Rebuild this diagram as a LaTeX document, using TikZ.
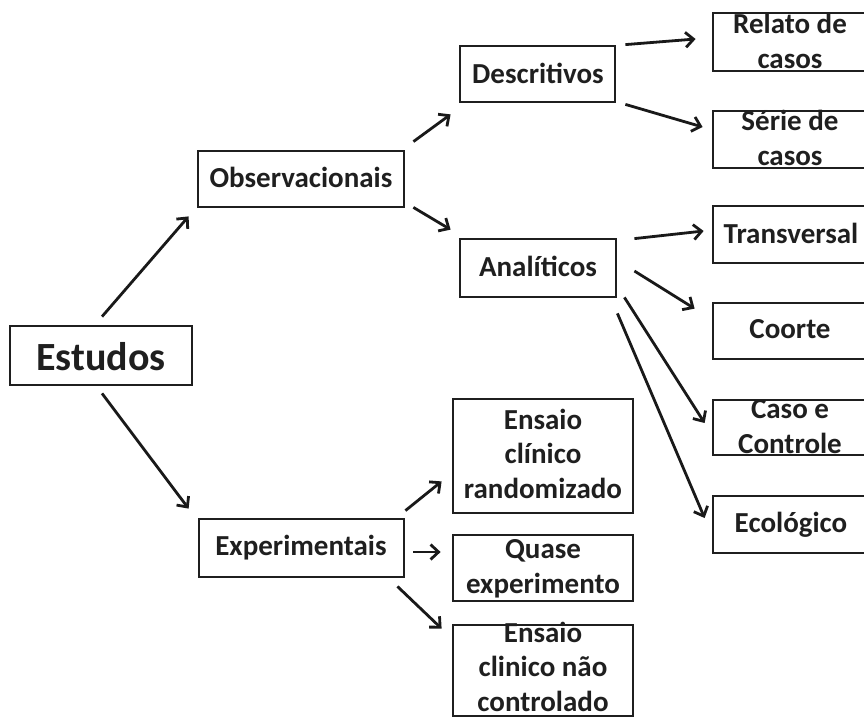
\documentclass[tikz,border=0pt]{standalone}
\usepackage{fontspec}
\setmainfont{Carlito}
\usetikzlibrary{arrows.meta,calc}

\tikzset{
  box/.style={draw=black!88, line width=2.8pt, inner sep=0pt, fill=none},
  lbl/.style={font=\fontsize{29}{34.5}\selectfont\bfseries, text=black!88,
              inner sep=0pt, anchor=base, align=center},
  biglbl/.style={lbl, font=\fontsize{40}{46}\selectfont\bfseries},
  arr/.style={draw=black!90, line width=2.8pt,
              -{Straight Barb[length=8pt,width=15pt,line width=2.8pt]}},
}

\begin{document}
\begin{tikzpicture}[x=1pt,y=-1pt]
  \useasboundingbox (0,0) rectangle (864,718);
  \clip (0,0) rectangle (864,718);

  % frames (centre, width, height)
  \node[box, minimum width=182pt, minimum height=59pt]  (est)  at (101,355.5) {};
  \node[box, minimum width=206pt, minimum height=56pt]  (obs)  at (301,179)   {};
  \node[box, minimum width=205pt, minimum height=58pt]  (exp)  at (301.5,548) {};
  \node[box, minimum width=155pt, minimum height=56pt]  (desc) at (537.5,74)  {};
  \node[box, minimum width=156pt, minimum height=58pt]  (anal) at (538,268)   {};
  \node[box, minimum width=180pt, minimum height=114pt] (ecr)  at (543,456)   {};
  \node[box, minimum width=180pt, minimum height=66pt]  (qex)  at (543,568)   {};
  \node[box, minimum width=180pt, minimum height=91pt]  (ecnc) at (543,670.5) {};
  \node[box, minimum width=154pt, minimum height=58pt]  (rel)  at (790,42)    {};
  \node[box, minimum width=154pt, minimum height=57pt]  (ser)  at (790,139.5) {};
  \node[box, minimum width=154pt, minimum height=57pt]  (trv)  at (790,234.5) {};
  \node[box, minimum width=154pt, minimum height=56pt]  (coo)  at (790,331)   {};
  \node[box, minimum width=154pt, minimum height=55pt]  (cc)   at (790,427.5) {};
  \node[box, minimum width=154pt, minimum height=57pt]  (eco)  at (790,524.5) {};

  % labels, placed on the baseline of their last line
  \node[biglbl] (t-est)  at (101,370) {Estudos};
  \node[lbl]    (t-obs)  at (301,187) {Observacionais};
  \node[lbl]    (t-exp)  at (301,555) {Experimentais};
  \node[lbl]    (t-desc) at (538,83)  {Descritivos};
  \node[lbl]    (t-anal) at (538,276) {Analíticos};
  \node[lbl]    (t-ecr)  at (543,498) {Ensaio\\clínico\\randomizado};
  \node[lbl]    (t-qex)  at (543,593) {Quase\\experimento};
  \node[lbl]    (t-ecnc) at (543,711) {Ensaio\\clinico não\\controlado};
  \node[lbl]    (t-rel)  at (790,68)  {Relato de\\casos};
  \node[lbl]    (t-ser)  at (790,165) {Série de\\casos};
  \node[lbl]    (t-trv)  at (791,243) {Transversal};
  \node[lbl]    (t-coo)  at (790,338) {Coorte};
  \node[lbl]    (t-cc)   at (790,453) {Caso e\\Controle};
  \node[lbl]    (t-eco)  at (791,532) {Ecológico};

  % connectors
  \draw[arr] ($(est.north)+(1,-8)$)       -- ($(obs.south west)+(-8,8)$);
  \draw[arr] ($(est.south)+(1,7)$)        -- ($(exp.north west)+(-9,-9)$);
  \draw[arr] ($(obs.north east)+(8,-8)$)  -- ($(desc.south west)+(-8,11)$);
  \draw[arr] ($(obs.south east)+(8,-1)$)  -- ($(anal.north west)+(-8,-8)$);
  \draw[arr] ($(desc.north east)+(9,0)$)  -- ($(rel.west)+(-16,-3)$);
  \draw[arr] ($(desc.south east)+(9,1)$)  -- ($(ser.west)+(-9,-12.5)$);
  \draw[arr] ($(anal.north east)+(17,1)$) -- ($(trv.west)+(-8,-3.5)$);
  \draw[arr] ($(anal.east)+(17,3)$)       -- ($(coo.north west)+(-17,7)$);
  \draw[arr] ($(anal.south east)+(7,-1)$) -- ($(cc.west)+(-7,-4.5)$);
  \draw[arr] ($(anal.south east)+(0,15)$) -- ($(eco.west)+(-7,-6.5)$);
  \draw[arr] ($(exp.north east)+(0,-7)$)  -- ($(ecr.south west)+(-10,-33)$);
  \draw[arr] ($(exp.east)+(8,4)$)         -- ($(qex.west)+(-11,-16)$);
  \draw[arr] ($(exp.south east)+(-8,8)$)  -- ($(ecnc.north west)+(-10,5)$);
\end{tikzpicture}
\end{document}
